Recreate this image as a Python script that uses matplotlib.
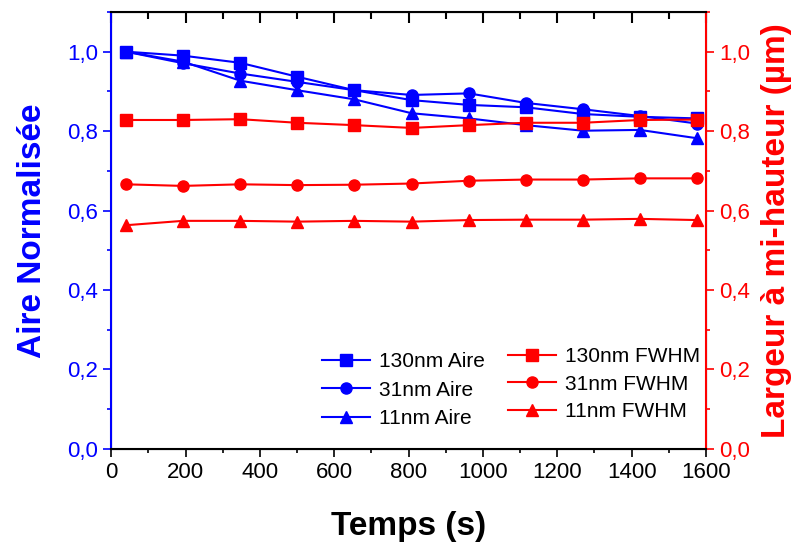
import matplotlib
matplotlib.use('Agg')
import matplotlib.pyplot as plt
from matplotlib.ticker import MultipleLocator, FuncFormatter

plt.rcParams['font.family'] = ['Liberation Sans', 'DejaVu Sans']

# temps (s)
temps = [40, 193, 347, 500, 654, 808, 962, 1115, 1269, 1422, 1576]

# aire normalisee
aire_130 = [1.0, 0.990, 0.972, 0.937, 0.903, 0.878, 0.866, 0.860, 0.843, 0.836, 0.832]
aire_31 = [1.0, 0.971, 0.945, 0.924, 0.903, 0.891, 0.895, 0.871, 0.855, 0.838, 0.819]
aire_11 = [1.0, 0.975, 0.927, 0.903, 0.880, 0.845, 0.832, 0.815, 0.801, 0.803, 0.782]

# largeur a mi-hauteur (um)
fwhm_130 = [0.828, 0.828, 0.830, 0.821, 0.815, 0.808, 0.815, 0.821, 0.821, 0.828, 0.829]
fwhm_31 = [0.666, 0.662, 0.666, 0.664, 0.665, 0.668, 0.675, 0.678, 0.678, 0.681, 0.681]
fwhm_11 = [0.563, 0.574, 0.574, 0.572, 0.574, 0.572, 0.576, 0.577, 0.577, 0.579, 0.576]

blue = '#0000ff'
red = '#ff0000'

fig = plt.figure(figsize=(8, 5.44), dpi=100)
ax = fig.add_axes([0.139, 0.175, 0.7435, 0.803])
ax2 = ax.twinx()

ms = 8
lb = []
lb += ax.plot(temps, aire_130, color=blue, marker='s', ms=ms, lw=1.5, label='130nm Aire')
lb += ax.plot(temps, aire_31, color=blue, marker='o', ms=ms, lw=1.5, label='31nm Aire')
lb += ax.plot(temps, aire_11, color=blue, marker='^', ms=ms + 1, lw=1.5, label='11nm Aire')

lr = []
lr += ax2.plot(temps, fwhm_130, color=red, marker='s', ms=ms, lw=1.5, label='130nm FWHM')
lr += ax2.plot(temps, fwhm_31, color=red, marker='o', ms=ms, lw=1.5, label='31nm FWHM')
lr += ax2.plot(temps, fwhm_11, color=red, marker='^', ms=ms + 1, lw=1.5, label='11nm FWHM')

comma = FuncFormatter(lambda v, p: ('%.1f' % v).replace('.', ','))

ax.set_xlim(0, 1600)
ax.set_ylim(0, 1.1)
ax2.set_ylim(0, 1.1)
ax.xaxis.set_major_locator(MultipleLocator(200))
ax.xaxis.set_minor_locator(MultipleLocator(100))
for a in (ax, ax2):
    a.yaxis.set_major_locator(MultipleLocator(0.2))
    a.yaxis.set_minor_locator(MultipleLocator(0.1))
    a.yaxis.set_major_formatter(comma)

ax.tick_params(axis='x', which='both', direction='out', labelsize=16, colors='black')
ax.tick_params(axis='x', which='major', length=6, width=1.2)
ax.tick_params(axis='x', which='minor', length=3, width=1.2)
ax.tick_params(axis='y', which='both', direction='out', colors=blue, labelsize=16)
ax.tick_params(axis='y', which='major', length=6, width=1.2)
ax.tick_params(axis='y', which='minor', length=3, width=1.2)
ax2.tick_params(axis='y', which='both', direction='out', colors=red, labelsize=16)
ax2.tick_params(axis='y', which='major', length=6, width=1.2)
ax2.tick_params(axis='y', which='minor', length=3, width=1.2)

# inward ticks along the top edge, at the locator positions
top_major = [v for v in ax.xaxis.get_majorticklocs() if 0 <= v <= 1600]
top_minor = [v for v in ax.xaxis.get_minorticklocs() if 0 <= v <= 1600]
trans = ax.get_xaxis_transform()
ax.plot(top_major, [1] * len(top_major), ls='none', marker=3, ms=8, mew=1.5,
        color='black', transform=trans, clip_on=False, zorder=5)
ax.plot(top_minor, [1] * len(top_minor), ls='none', marker=3, ms=5, mew=1.5,
        color='black', transform=trans, clip_on=False, zorder=5)

ax2.spines['left'].set_color(blue)
ax2.spines['right'].set_color(red)
for s in ax2.spines.values():
    s.set_linewidth(1.5)

ax.set_xlabel('Temps (s)', fontsize=24, fontweight='bold', labelpad=20)
ax.set_ylabel('Aire Normalisée', fontsize=24, fontweight='bold', color=blue, labelpad=14)
ax2.set_ylabel('Largeur à mi-hauteur (µm)', fontsize=24, fontweight='bold', color=red, labelpad=8)

leg1 = ax2.legend(handles=lb, loc='center left', bbox_to_anchor=(312 / 800, 1 - 390 / 544),
                  bbox_transform=fig.transFigure, frameon=False, fontsize=15,
                  borderpad=0, handlelength=2.3, handletextpad=0.4, labelspacing=0.45)
ax2.add_artist(leg1)
ax2.legend(handles=lr, loc='center left', bbox_to_anchor=(498 / 800, 1 - 384 / 544),
           bbox_transform=fig.transFigure, frameon=False, fontsize=15,
           borderpad=0, handlelength=2.3, handletextpad=0.4, labelspacing=0.4)

fig.savefig('out.png', dpi=100)
